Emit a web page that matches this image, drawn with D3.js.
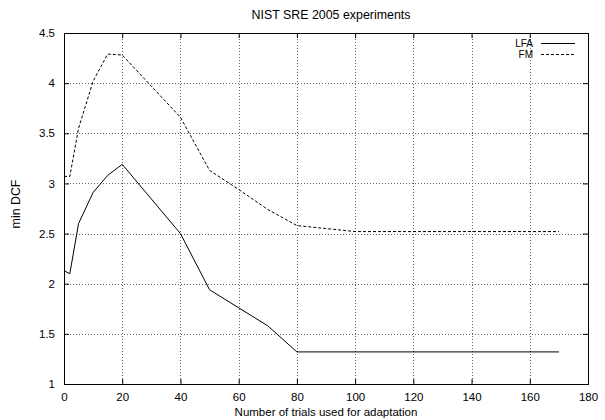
<!DOCTYPE html>
<html>
<head>
<meta charset="utf-8">
<script src="https://cdn.jsdelivr.net/npm/d3@7"></script>
<style>
  body { margin: 0; background: #fff; }
  text { font-family: "Liberation Sans", Arial, sans-serif; fill: #000; }
</style>
</head>
<body>
<div id="chart"></div>
<script>
// trials used for adaptation
const trials = [0, 2, 5, 10, 15, 20, 40, 50, 60, 70, 80, 100, 170];
const lfa = [2.13, 2.10, 2.60, 2.91, 3.08, 3.19, 2.50, 1.94, 1.76, 1.58, 1.32, 1.32, 1.32];
const fm = [3.07, 3.07, 3.55, 4.02, 4.29, 4.28, 3.66, 3.13, 2.94, 2.74, 2.58, 2.52, 2.52];

const xTicks = [0, 20, 40, 60, 80, 100, 120, 140, 160, 180];
const yTicks = [1, 1.5, 2, 2.5, 3, 3.5, 4, 4.5];

const seriesNames = ["LFA", "FM"];
const seriesDash = [null, "3,2"];

const width = 605;
const height = 420;
const margin = {top: 33, left: 64, right: 17, bottom: 36};

const svg = d3.select("#chart")
    .append("svg")
    .attr("width", width)
    .attr("height", height);

let xScale = d3.scaleLinear()
    .domain([0, 180])
    .range([margin.left, width - margin.right]);

let yScale = d3.scaleLinear()
    .domain([1, 4.5])
    .range([height - margin.bottom, margin.top]);

// grid
svg.append("g")
    .selectAll("line")
    .data(xTicks.slice(1, -1))
    .enter()
    .append("line")
        .attr("x1", d => Math.round(xScale(d)) + 0.5)
        .attr("x2", d => Math.round(xScale(d)) + 0.5)
        .attr("y1", margin.top)
        .attr("y2", height - margin.bottom)
        .attr("stroke", "#666")
        .attr("stroke-dasharray", "1,2");

svg.append("g")
    .selectAll("line")
    .data(yTicks.slice(1, -1))
    .enter()
    .append("line")
        .attr("y1", d => Math.round(yScale(d)) + 0.5)
        .attr("y2", d => Math.round(yScale(d)) + 0.5)
        .attr("x1", margin.left)
        .attr("x2", width - margin.right)
        .attr("stroke", "#666")
        .attr("stroke-dasharray", "1,2");

// axes, ticks drawn inward and mirrored
const tickLen = 5;
svg.append("g")
    .attr("transform", `translate(0,${height - margin.bottom})`)
    .call(d3.axisBottom(xScale).tickValues(xTicks).tickSize(-tickLen).tickPadding(9))
    .call(g => g.select(".domain").remove());

svg.append("g")
    .attr("transform", `translate(0,${margin.top})`)
    .call(d3.axisTop(xScale).tickValues(xTicks).tickSize(-tickLen).tickFormat(""))
    .call(g => g.select(".domain").remove());

svg.append("g")
    .attr("transform", `translate(${margin.left},0)`)
    .call(d3.axisLeft(yScale).tickValues(yTicks).tickSize(-tickLen).tickPadding(9).tickFormat(d3.format("")))
    .call(g => g.select(".domain").remove());

svg.append("g")
    .attr("transform", `translate(${width - margin.right},0)`)
    .call(d3.axisRight(yScale).tickValues(yTicks).tickSize(-tickLen).tickFormat(""))
    .call(g => g.select(".domain").remove());

svg.selectAll(".tick text")
    .attr("font-size", 11.5)
    .attr("font-family", "Liberation Sans, Arial, sans-serif");

svg.selectAll(".tick line").attr("stroke", "#000");

// border
svg.append("rect")
    .attr("x", margin.left + 0.5)
    .attr("y", margin.top + 0.5)
    .attr("width", width - margin.left - margin.right)
    .attr("height", height - margin.top - margin.bottom)
    .attr("fill", "none")
    .attr("stroke", "#000");

// lines
const line = d3.line()
    .x((d, i) => xScale(trials[i]))
    .y(d => yScale(d));

[lfa, fm].forEach(function(vals, i) {
    svg.append("path")
        .datum(vals)
        .attr("d", line)
        .attr("fill", "none")
        .attr("stroke", "#000")
        .attr("stroke-width", 1)
        .attr("stroke-dasharray", seriesDash[i]);
});

// legend
seriesNames.forEach(function(name, i) {
    const ly = 43 + i * 11;
    svg.append("text")
        .attr("x", 533)
        .attr("y", ly + 4)
        .attr("text-anchor", "end")
        .attr("font-size", 10)
        .text(name);
    svg.append("line")
        .attr("x1", 541)
        .attr("x2", 575)
        .attr("y1", ly + 0.5)
        .attr("y2", ly + 0.5)
        .attr("stroke", "#000")
        .attr("stroke-dasharray", seriesDash[i]);
});

// titles
svg.append("text")
    .attr("x", 331)
    .attr("y", 19)
    .attr("text-anchor", "middle")
    .attr("font-size", 12.4)
    .text("NIST SRE 2005 experiments");

svg.append("text")
    .attr("x", 326)
    .attr("y", 416)
    .attr("text-anchor", "middle")
    .attr("font-size", 11.5)
    .text("Number of trials used for adaptation");

svg.append("text")
    .attr("transform", "translate(20,204) rotate(-90)")
    .attr("text-anchor", "middle")
    .attr("font-size", 12.4)
    .text("min DCF");
</script>
</body>
</html>
